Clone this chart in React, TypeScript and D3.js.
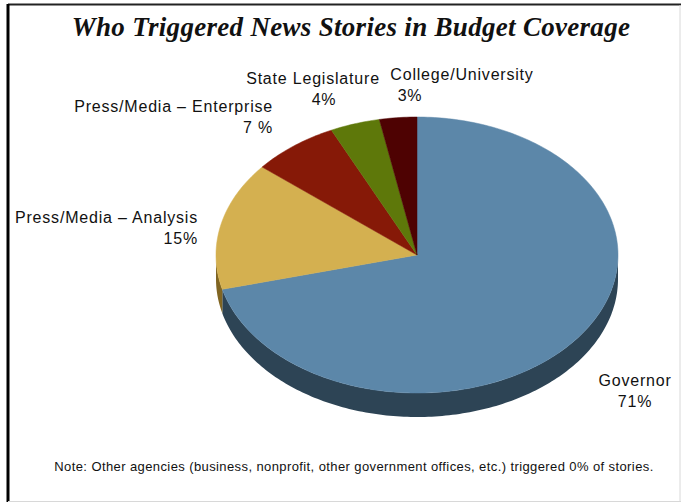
import React from "react";
import * as d3 from "d3";

const categories = [
  "Governor",
  "Press/Media – Analysis",
  "Press/Media – Enterprise",
  "State Legislature",
  "College/University",
];
const values = [71, 15, 7, 4, 3];
const pctLabels = ["71%", "15%", "7 %", "4%", "3%"];
const title = "Who Triggered News Stories in Budget Coverage";
const note =
  "Note: Other agencies (business, nonprofit, other government offices, etc.) triggered 0% of stories.";

const topColors = ["#5c87a9", "#d4b050", "#861907", "#5e780a", "#4e0202"];
const sideColors = ["#2d4455", "#806522", "#50100a", "#374607", "#2c0000"];

// label layout: [x, y of first line, anchor, x of second line]
const labelLayout: [number, number, string, number][] = [
  [635, 386, "middle", 635],
  [198, 223, "end", 198],
  [273, 112, "end", 273],
  [313, 84, "middle", 324],
  [462, 80, "middle", 410],
];

const W = 682;
const H = 504;
const cx = 417;
const cy = 255;
const rx = 201;
const ry = 138;
const depth = 24;

function rimPoint(theta: number, dy = 0): [number, number] {
  return [cx + rx * Math.sin(theta), cy - ry * Math.cos(theta) + dy];
}

function sampleAngles(a: number, b: number): number[] {
  const n = Math.max(2, Math.ceil(((b - a) / (2 * Math.PI)) * 360));
  return d3.range(n + 1).map((i) => a + ((b - a) * i) / n);
}

export default function App() {
  const pie = d3.pie<number>().sort(null).value((d) => d);
  const arcs = pie(values);
  const line = d3.line<[number, number]>();

  const sides = arcs
    .map((a, i) => {
      const s = Math.max(a.startAngle, Math.PI / 2);
      const e = Math.min(a.endAngle, (3 * Math.PI) / 2);
      if (e <= s) return null;
      const angs = sampleAngles(s, e);
      const top = angs.map((t) => rimPoint(t));
      const bot = angs.slice().reverse().map((t) => rimPoint(t, depth));
      return { i, d: line([...top, ...bot])! + "Z" };
    })
    .filter(Boolean) as { i: number; d: string }[];

  const tops = arcs.map((a, i) => {
    const angs = sampleAngles(a.startAngle, a.endAngle);
    const pts: [number, number][] = [[cx, cy], ...angs.map((t) => rimPoint(t))];
    return { i, d: line(pts)! + "Z" };
  });

  const labelFont = "'Liberation Sans', Arial, sans-serif";

  return (
    <svg
      width={W}
      height={H}
      style={{ position: "absolute", left: 0, top: 0, display: "block" }}
    >
      <rect x={0} y={0} width={W} height={H} fill="#fff" />
      <line x1={8} y1={4.5} x2={681} y2={4.5} stroke="#222" strokeWidth={2} />
      <line x1={8} y1={4} x2={8} y2={502} stroke="#000" strokeWidth={3} />
      <line x1={680} y1={5} x2={680} y2={502} stroke="#d8d8d8" strokeWidth={1} />
      <line x1={8} y1={501.5} x2={681} y2={501.5} stroke="#d8d8d8" strokeWidth={1} />

      <text
        x={351}
        y={36}
        textAnchor="middle"
        fontFamily="'Liberation Serif', 'Times New Roman', serif"
        fontStyle="italic"
        fontWeight="bold"
        fontSize={27}
        letterSpacing={0.3}
        fill="#111"
      >
        {title}
      </text>

      {sides.map((s) => (
        <path key={"s" + s.i} d={s.d} fill={sideColors[s.i]} />
      ))}
      {tops.map((t) => (
        <path key={"t" + t.i} d={t.d} fill={topColors[t.i]} stroke={topColors[t.i]} strokeWidth={0.5} />
      ))}

      {categories.map((c, i) => {
        const [x, y, anchor, px] = labelLayout[i];
        return (
          <g key={c} fontFamily={labelFont} fontSize={16} fill="#111" letterSpacing={0.8}>
            <text x={x} y={y} textAnchor={anchor as any}>
              {c}
            </text>
            <text x={px} y={y + 21} textAnchor={anchor as any}>
              {pctLabels[i]}
            </text>
          </g>
        );
      })}

      <text
        x={354}
        y={471}
        textAnchor="middle"
        fontFamily="'Liberation Sans', Arial, sans-serif"
        fontSize={13}
        letterSpacing={0.4}
        fill="#111"
      >
        {note}
      </text>
    </svg>
  );
}
